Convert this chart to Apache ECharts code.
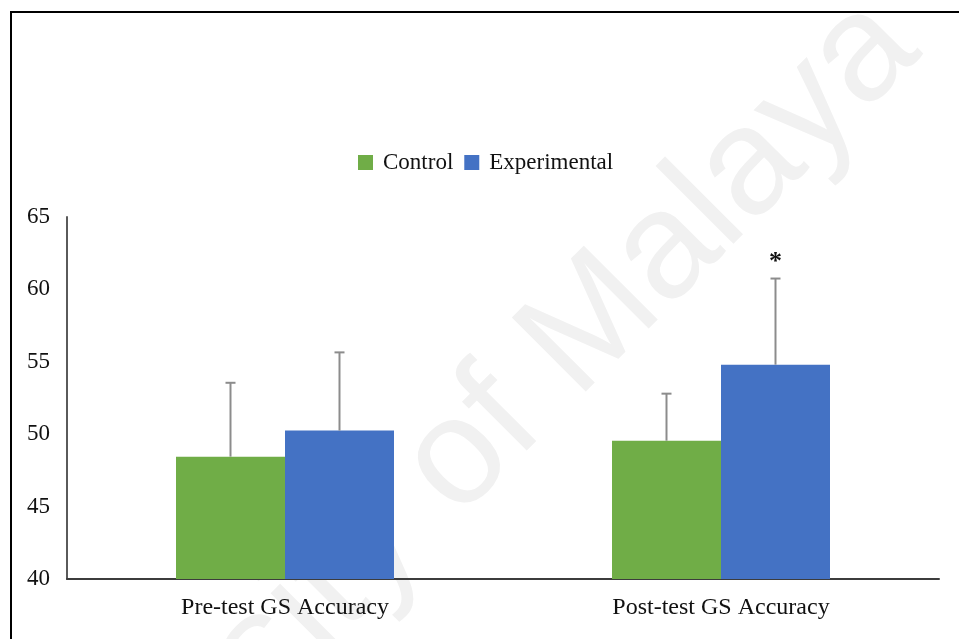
<!DOCTYPE html>
<html>
<head>
<meta charset="utf-8">
<script src="https://cdn.jsdelivr.net/npm/echarts@6/dist/echarts.min.js"></script>
<style>
  html, body { margin: 0; padding: 0; background: #ffffff; }
  #chart { width: 959px; height: 639px; }
</style>
</head>
<body>
<div id="chart"></div>
<script>
// Group labels along the x axis
const categories = ['Pre-test GS Accuracy', 'Post-test GS Accuracy'];
// Mean GS accuracy per group
const controlMeans = [48.45, 49.55];
const experimentalMeans = [50.25, 54.8];
// Standard deviations (upper error bars)
const controlSD = [5.1, 3.25];
const experimentalSD = [5.4, 5.95];
// Significance markers drawn above the experimental error bars
const experimentalMarks = ['', '*'];
// Y-axis range and step
const yMin = 40, yMax = 65, yStep = 5;

const serif = '"Liberation Serif", "Times New Roman", serif';
const textColor = '#111111';
const barShare = 0.25; // bar width as a share of the category band

const chart = echarts.init(document.getElementById('chart'), null, { renderer: 'canvas' });

// Error bar series: vertical whisker from the mean up to mean + SD, with a cap
function errorSeries(name, means, sds, offsetSign, marks) {
  const data = means.map((m, i) => [i, m, m + sds[i], marks ? marks[i] : '']);
  return {
    name: name + ' SD',
    type: 'custom',
    z: 5,
    silent: true,
    data: data,
    encode: { x: 0, y: [1, 2] },
    renderItem: function (params, api) {
      const idx = api.value(0);
      const band = api.size([1, 0])[0];
      const dx = offsetSign * band * barShare / 2;
      const base = api.coord([idx, api.value(1)]);
      const top = api.coord([idx, api.value(2)]);
      const x = base[0] + dx;
      const cap = 5;
      const children = [
        { type: 'line', shape: { x1: x, y1: base[1], x2: x, y2: top[1] },
          style: { stroke: '#8c8c8c', lineWidth: 2 } },
        { type: 'line', shape: { x1: x - cap, y1: top[1], x2: x + cap, y2: top[1] },
          style: { stroke: '#8c8c8c', lineWidth: 2 } }
      ];
      const mark = api.value(3);
      if (mark) {
        children.push({
          type: 'text',
          style: { x: x, y: top[1] - 16, text: mark, fill: textColor,
                   font: 'bold 26px ' + serif, align: 'center', verticalAlign: 'middle' }
        });
      }
      return { type: 'group', children: children };
    }
  };
}

const option = {
  animation: false,
  backgroundColor: '#ffffff',
  textStyle: { fontFamily: serif },
  graphic: [
    // faint diagonal watermark behind the plot
    {
      type: 'text', z: -10, silent: true,
      x: 410, y: 508, rotation: Math.PI / 4,
      style: {
        text: 'University of Malaya',
        font: '152px "Liberation Sans", Arial, sans-serif',
        fill: '#f1f1f1', align: 'center', verticalAlign: 'middle'
      }
    },
    // frame: left and top edges
    {
      type: 'polyline', z: 10, silent: true,
      shape: { points: [[11, 639], [11, 12], [959, 12]] },
      style: { stroke: '#000000', lineWidth: 2, fill: null }
    }
  ],
  legend: {
    left: 358, top: 151, padding: 0,
    itemWidth: 15, itemHeight: 15, itemGap: 11,
    icon: 'rect',
    data: ['Control', 'Experimental'],
    textStyle: { fontFamily: serif, fontSize: 23, color: textColor, padding: [0, 0, 0, 5] }
  },
  grid: { left: 67, right: 20, top: 217, bottom: 60, containLabel: false },
  xAxis: {
    type: 'category',
    data: categories,
    axisLine: { lineStyle: { color: '#3c3c3c', width: 2 } },
    axisTick: { show: false },
    axisLabel: { fontFamily: serif, fontSize: 24, color: textColor, margin: 17 }
  },
  yAxis: {
    type: 'value',
    min: yMin, max: yMax, interval: yStep,
    axisLine: { show: true, lineStyle: { color: '#5a5a5a', width: 2 } },
    axisTick: { show: false },
    splitLine: { show: false },
    axisLabel: { fontFamily: serif, fontSize: 23, color: textColor, margin: 17 }
  },
  series: [
    {
      name: 'Control', type: 'bar', data: controlMeans,
      itemStyle: { color: '#70ad47' },
      barGap: '0%', barCategoryGap: '50%'
    },
    {
      name: 'Experimental', type: 'bar', data: experimentalMeans,
      itemStyle: { color: '#4472c4' },
      barGap: '0%', barCategoryGap: '50%'
    },
    errorSeries('Control', controlMeans, controlSD, -1, null),
    errorSeries('Experimental', experimentalMeans, experimentalSD, 1, experimentalMarks)
  ]
};

chart.setOption(option);
</script>
</body>
</html>
